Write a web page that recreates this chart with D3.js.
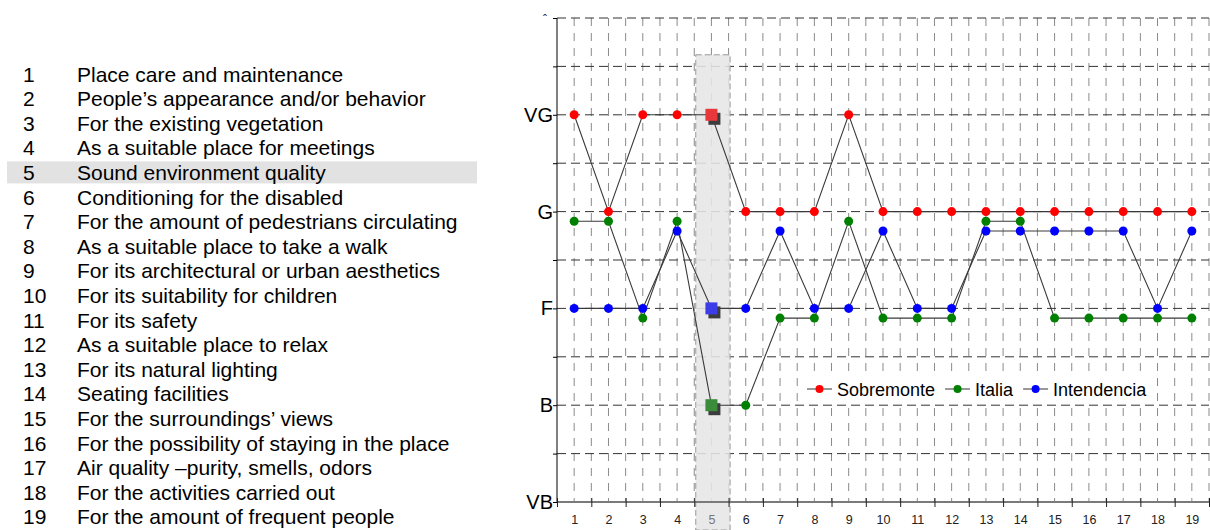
<!DOCTYPE html>
<html><head><meta charset="utf-8">
<script src="https://cdn.jsdelivr.net/npm/d3@7"></script>
<style>
html,body{margin:0;padding:0;background:#fff;}
svg{display:block;font-family:"Liberation Sans",Arial,sans-serif;}
</style></head>
<body>
<svg id="chart" width="1210" height="530"></svg>
<script>
// ---- data ----
const categories = d3.range(1, 20);
const items = [
  "Place care and maintenance",
  "People\u2019s appearance and/or behavior",
  "For the existing vegetation",
  "As a suitable place for meetings",
  "Sound environment quality",
  "Conditioning for the disabled",
  "For the amount of pedestrians circulating",
  "As a suitable place to take a walk",
  "For its architectural or urban aesthetics",
  "For its suitability for children",
  "For its safety",
  "As a suitable place to relax",
  "For its natural lighting",
  "Seating facilities",
  "For the surroundings\u2019 views",
  "For the possibility of staying in the place",
  "Air quality \u2013purity, smells, odors",
  "For the activities carried out",
  "For the amount of frequent people"
];
const levelLabels = ["VB", "B", "F", "G", "VG"];
const topLabel = "\u02C6";
const highlighted = 5;
const seriesNames = ["Sobremonte", "Italia", "Intendencia"];
const sobremonte  = [4,3,4,4,4,3,3,3,4,3,3,3,3,3,3,3,3,3,3];
const italia      = [2.9,2.9,1.9,2.9,1,1,1.9,1.9,2.9,1.9,1.9,1.9,2.9,2.9,1.9,1.9,1.9,1.9,1.9];
const intendencia = [2,2,2,2.8,2,2,2.8,2,2,2.8,2,2,2.8,2.8,2.8,2.8,2.8,2,2.8];
const seriesColors = ["#ff0000", "#008000", "#0000ff"];
const squareColors = ["#e8383c", "#3a8c3a", "#3c3ce8"];

const series = [sobremonte, italia, intendencia].map((vals, i) => ({
  name: seriesNames[i], color: seriesColors[i], sq: squareColors[i],
  values: vals.map((v, j) => ({cat: categories[j], v}))
}));

// ---- layout ----
const svg = d3.select("#chart");
const x = d3.scaleLinear().domain([0.5, 19.5]).range([557, 1209]);
const y = d3.scaleLinear().domain([0, 5]).range([502, 18]);
const band = x(1.5) - x(0.5);
const rowY = d3.scaleLinear().domain([1, 19]).range([81.5, 524.3]);

// left list
const list = svg.append("g").attr("font-size", 21).attr("fill", "#000");
list.append("rect")
  .attr("x", 7).attr("width", 470)
  .attr("y", rowY(highlighted) - 18.5).attr("height", 22)
  .attr("fill", "#e2e2e2");
categories.forEach((c, i) => {
  list.append("text").attr("x", 23).attr("y", rowY(c)).text(c);
  list.append("text").attr("x", 77).attr("y", rowY(c)).text(items[i]);
});

// gridlines
const grid = svg.append("g");
grid.selectAll("line.v").data(d3.range(1, 19.51, 0.5)).join("line")
  .attr("x1", d => x(d)).attr("x2", d => x(d))
  .attr("y1", y(5)).attr("y2", y(0))
  .attr("stroke", "#8a8a8a").attr("stroke-width", 1)
  .attr("stroke-dasharray", "8,7");
grid.selectAll("line.h").data(d3.range(0.5, 5.01, 0.5)).join("line")
  .attr("x1", x(0.5)).attr("x2", x(19.5))
  .attr("y1", d => y(d)).attr("y2", d => y(d))
  .attr("stroke", "#333").attr("stroke-width", 1)
  .attr("stroke-dasharray", "9,5");

// highlight box for category 5
svg.append("rect")
  .attr("x", x(highlighted - 0.5) + 1.5).attr("width", band)
  .attr("y", y(4.62)).attr("height", 530 - y(4.62))
  .attr("fill", "#e6e6e6").attr("fill-opacity", 0.88)
  .attr("stroke", "#9a9a9a").attr("stroke-width", 1)
  .attr("stroke-dasharray", "6,3");

// y axis
const yAxis = d3.axisLeft(y)
  .tickValues(d3.range(0, 5.01, 0.5))
  .tickSize(4).tickPadding(0)
  .tickFormat(d => (Number.isInteger(d) && d < 5) ? levelLabels[d] : "");
const gy = svg.append("g").attr("transform", `translate(${x(0.5)},0)`).call(yAxis);
gy.select(".domain").attr("stroke", "#000").attr("d", `M0,${y(5)}V${y(0)}`);
gy.selectAll(".tick line").attr("stroke", "#000");
gy.selectAll(".tick text").attr("font-size", 20).attr("fill", "#000")
  .attr("font-family", '"Liberation Sans",Arial,sans-serif');
svg.append("text").attr("x", x(0.5) - 14).attr("y", y(5) + 6)
  .attr("font-size", 12).attr("fill", "#222").text(topLabel);

// x axis: boundary ticks
const xAxis = d3.axisBottom(x).tickValues(d3.range(0.5, 19.51, 1)).tickSize(4).tickFormat("");
const gx = svg.append("g").attr("transform", `translate(0,${y(0)})`).call(xAxis);
gx.select(".domain").attr("stroke", "#7a7a7a").attr("stroke-width", 2).attr("d", `M${x(0.5)},0H${x(19.5)}`);
gx.selectAll(".tick line").attr("stroke", "#222").attr("y1", -4).attr("y2", 5);

// x labels
const xLab = d3.axisBottom(x).tickValues(categories).tickSize(0).tickPadding(13).tickFormat(d => d);
const gxl = svg.append("g").attr("transform", `translate(0,${y(0)})`).call(xLab);
gxl.select(".domain").remove();
gxl.selectAll(".tick text").attr("font-size", 12.5)
  .attr("font-family", '"Liberation Sans",Arial,sans-serif')
  .attr("fill", d => d === highlighted ? "#777" : "#222");

// series lines
const line = d3.line().x(d => x(d.cat)).y(d => y(d.v));
const gs = svg.append("g");
series.forEach(s => {
  gs.append("path").datum(s.values).attr("d", line)
    .attr("fill", "none").attr("stroke", "#3a3a3a").attr("stroke-width", 1.1);
});
series.forEach(s => {
  const pts = s.values.filter(d => d.cat !== highlighted);
  gs.selectAll(null).data(pts).join("circle")
    .attr("cx", d => x(d.cat)).attr("cy", d => y(d.v)).attr("r", 4.5)
    .attr("fill", s.color);
  const hp = s.values.filter(d => d.cat === highlighted);
  gs.selectAll(null).data(hp).join("rect")
    .attr("x", d => x(d.cat) - 6 + 3).attr("y", d => y(d.v) - 6 + 4)
    .attr("width", 12).attr("height", 12).attr("fill", "#3c3c3c");
  gs.selectAll(null).data(hp).join("rect")
    .attr("x", d => x(d.cat) - 6).attr("y", d => y(d.v) - 6)
    .attr("width", 12).attr("height", 12).attr("fill", s.sq);
});

// legend
const lg = svg.append("g");
lg.append("rect").attr("x", 800).attr("y", 372).attr("width", 352).attr("height", 30).attr("fill", "#fff");
let lx = 807;
const ly = 389;
series.forEach(s => {
  lg.append("line").attr("x1", lx).attr("x2", lx + 25).attr("y1", ly).attr("y2", ly)
    .attr("stroke", "#555").attr("stroke-width", 1.2);
  lg.append("circle").attr("cx", lx + 12.5).attr("cy", ly).attr("r", 4).attr("fill", s.color);
  const t = lg.append("text").attr("x", lx + 30).attr("y", ly + 6.5)
    .attr("font-size", 18).attr("fill", "#000").text(s.name);
  lx += 30 + t.node().getComputedTextLength() + 10;
});
</script>
</body></html>
